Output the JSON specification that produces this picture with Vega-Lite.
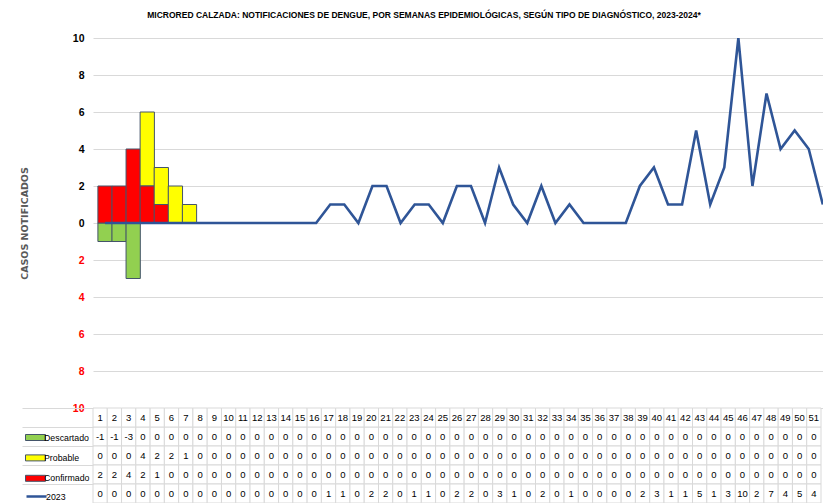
{
  "$schema": "https://vega.github.io/schema/vega-lite/v6.json",
  "autosize": {"type": "pad"},
  "padding": {"left": 19, "top": 10, "right": 0, "bottom": 0},
  "bounds": "flush",
  "spacing": 0,
  "background": "white",
  "title": {
    "text": "MICRORED  CALZADA:  NOTIFICACIONES  DE  DENGUE,  POR SEMANAS  EPIDEMIOLÓGICAS,   SEGÚN  TIPO  DE  DIAGNÓSTICO,  2023-2024*",
    "font": "Liberation Sans",
    "fontSize": 8.5,
    "fontWeight": "bold",
    "color": "#000000",
    "anchor": "middle",
    "dx": 2,
    "offset": 14
  },
  "datasets": {
    "d": [
      {"semana": 1, "Descartado": -1, "Probable": 0, "Confirmado": 2, "2023": 0},
      {"semana": 2, "Descartado": -1, "Probable": 0, "Confirmado": 2, "2023": 0},
      {"semana": 3, "Descartado": -3, "Probable": 0, "Confirmado": 4, "2023": 0},
      {"semana": 4, "Descartado": 0, "Probable": 4, "Confirmado": 2, "2023": 0},
      {"semana": 5, "Descartado": 0, "Probable": 2, "Confirmado": 1, "2023": 0},
      {"semana": 6, "Descartado": 0, "Probable": 2, "Confirmado": 0, "2023": 0},
      {"semana": 7, "Descartado": 0, "Probable": 1, "Confirmado": 0, "2023": 0},
      {"semana": 8, "Descartado": 0, "Probable": 0, "Confirmado": 0, "2023": 0},
      {"semana": 9, "Descartado": 0, "Probable": 0, "Confirmado": 0, "2023": 0},
      {"semana": 10, "Descartado": 0, "Probable": 0, "Confirmado": 0, "2023": 0},
      {"semana": 11, "Descartado": 0, "Probable": 0, "Confirmado": 0, "2023": 0},
      {"semana": 12, "Descartado": 0, "Probable": 0, "Confirmado": 0, "2023": 0},
      {"semana": 13, "Descartado": 0, "Probable": 0, "Confirmado": 0, "2023": 0},
      {"semana": 14, "Descartado": 0, "Probable": 0, "Confirmado": 0, "2023": 0},
      {"semana": 15, "Descartado": 0, "Probable": 0, "Confirmado": 0, "2023": 0},
      {"semana": 16, "Descartado": 0, "Probable": 0, "Confirmado": 0, "2023": 0},
      {"semana": 17, "Descartado": 0, "Probable": 0, "Confirmado": 0, "2023": 1},
      {"semana": 18, "Descartado": 0, "Probable": 0, "Confirmado": 0, "2023": 1},
      {"semana": 19, "Descartado": 0, "Probable": 0, "Confirmado": 0, "2023": 0},
      {"semana": 20, "Descartado": 0, "Probable": 0, "Confirmado": 0, "2023": 2},
      {"semana": 21, "Descartado": 0, "Probable": 0, "Confirmado": 0, "2023": 2},
      {"semana": 22, "Descartado": 0, "Probable": 0, "Confirmado": 0, "2023": 0},
      {"semana": 23, "Descartado": 0, "Probable": 0, "Confirmado": 0, "2023": 1},
      {"semana": 24, "Descartado": 0, "Probable": 0, "Confirmado": 0, "2023": 1},
      {"semana": 25, "Descartado": 0, "Probable": 0, "Confirmado": 0, "2023": 0},
      {"semana": 26, "Descartado": 0, "Probable": 0, "Confirmado": 0, "2023": 2},
      {"semana": 27, "Descartado": 0, "Probable": 0, "Confirmado": 0, "2023": 2},
      {"semana": 28, "Descartado": 0, "Probable": 0, "Confirmado": 0, "2023": 0},
      {"semana": 29, "Descartado": 0, "Probable": 0, "Confirmado": 0, "2023": 3},
      {"semana": 30, "Descartado": 0, "Probable": 0, "Confirmado": 0, "2023": 1},
      {"semana": 31, "Descartado": 0, "Probable": 0, "Confirmado": 0, "2023": 0},
      {"semana": 32, "Descartado": 0, "Probable": 0, "Confirmado": 0, "2023": 2},
      {"semana": 33, "Descartado": 0, "Probable": 0, "Confirmado": 0, "2023": 0},
      {"semana": 34, "Descartado": 0, "Probable": 0, "Confirmado": 0, "2023": 1},
      {"semana": 35, "Descartado": 0, "Probable": 0, "Confirmado": 0, "2023": 0},
      {"semana": 36, "Descartado": 0, "Probable": 0, "Confirmado": 0, "2023": 0},
      {"semana": 37, "Descartado": 0, "Probable": 0, "Confirmado": 0, "2023": 0},
      {"semana": 38, "Descartado": 0, "Probable": 0, "Confirmado": 0, "2023": 0},
      {"semana": 39, "Descartado": 0, "Probable": 0, "Confirmado": 0, "2023": 2},
      {"semana": 40, "Descartado": 0, "Probable": 0, "Confirmado": 0, "2023": 3},
      {"semana": 41, "Descartado": 0, "Probable": 0, "Confirmado": 0, "2023": 1},
      {"semana": 42, "Descartado": 0, "Probable": 0, "Confirmado": 0, "2023": 1},
      {"semana": 43, "Descartado": 0, "Probable": 0, "Confirmado": 0, "2023": 5},
      {"semana": 44, "Descartado": 0, "Probable": 0, "Confirmado": 0, "2023": 1},
      {"semana": 45, "Descartado": 0, "Probable": 0, "Confirmado": 0, "2023": 3},
      {"semana": 46, "Descartado": 0, "Probable": 0, "Confirmado": 0, "2023": 10},
      {"semana": 47, "Descartado": 0, "Probable": 0, "Confirmado": 0, "2023": 2},
      {"semana": 48, "Descartado": 0, "Probable": 0, "Confirmado": 0, "2023": 7},
      {"semana": 49, "Descartado": 0, "Probable": 0, "Confirmado": 0, "2023": 4},
      {"semana": 50, "Descartado": 0, "Probable": 0, "Confirmado": 0, "2023": 5},
      {"semana": 51, "Descartado": 0, "Probable": 0, "Confirmado": 0, "2023": 4},
      {"semana": 52, "2023": 1}
    ]
  },
  "vconcat": [
    {
      "width": 732,
      "height": 370,
      "data": {"name": "d"},
      "layer": [
        {
          "transform": [
            {"fold": ["Descartado", "Probable", "Confirmado"], "as": ["serie", "valor"]},
            {"filter": "isValid(datum.valor) && datum.valor != 0"}
          ],
          "mark": {"type": "bar", "width": 14.27, "stroke": "#44546A", "strokeWidth": 1},
          "encoding": {
            "x": {"field": "semana", "type": "quantitative", "scale": {"domain": [0.5, 51.8], "nice": false, "zero": false}, "axis": null},
            "y": {
              "field": "valor", "type": "quantitative", "stack": "zero",
              "scale": {"domain": [-10, 10], "nice": false},
              "axis": {
                "values": [-10, -8, -6, -4, -2, 0, 2, 4, 6, 8, 10],
                "tickCount": 11,
                "labelExpr": "abs(datum.value)",
                "labelColor": {"condition": {"test": "datum.value < 0", "value": "#FF0000"}, "value": "#000000"},
                "labelFont": "Liberation Sans",
                "labelFontWeight": "bold",
                "labelFontSize": 10.5,
                "labelPadding": 9,
                "labelOverlap": false,
                "labelBound": false,
                "ticks": false,
                "domain": false,
                "grid": true,
                "gridColor": "#D9D9D9",
                "gridWidth": 1,
                "title": "CASOS NOTIFICADOS",
                "titleFontSize": 9.5,
                "titleFont": "DejaVu Sans",
                "titleFontWeight": "bold",
                "titleColor": "#595959",
                "titleX": -69,
                "titleY": 185,
                "titleAngle": 270,
                "titleAlign": "center",
                "titleBaseline": "middle"
              }
            },
            "fill": {
              "field": "serie", "type": "nominal",
              "scale": {"domain": ["Descartado", "Probable", "Confirmado"], "range": ["#92D050", "#FFFF00", "#FF0000"]},
              "legend": {
                "orient": "none",
                "legendX": -63,
                "legendY": 394,
                "title": null,
                "direction": "vertical",
                "symbolType": "M-2,-0.6H2V0.6H-2Z",
                "symbolSize": 100,
                "symbolStrokeColor": "#44546A",
                "symbolStrokeWidth": 1,
                "symbolOpacity": 1,
                "labelFont": "Liberation Sans",
                "labelFontSize": 8.8,
                "labelColor": "#000000",
                "labelBaseline": "middle",
                "labelOffset": 3,
                "rowPadding": 9.4,
                "padding": 0
              }
            },
            "order": {"field": "serie", "sort": "ascending"}
          }
        },
        {
          "mark": {"type": "line", "strokeWidth": 2.6, "clip": true},
          "encoding": {
            "x": {"field": "semana", "type": "quantitative"},
            "y": {
              "field": "2023", "type": "quantitative",
              "axis": {
                "values": [-10, -8, -6, -4, -2, 0, 2, 4, 6, 8, 10],
                "tickCount": 11,
                "labelOverlap": false
              }
            },
            "stroke": {
              "datum": "2023", "type": "nominal",
              "scale": {"domain": ["2023"], "range": ["#2F5597"]},
              "legend": {
                "orient": "none",
                "legendX": -63,
                "legendY": 452,
                "title": null,
                "symbolType": "M-2,0H2",
                "symbolSize": 100,
                "symbolStrokeWidth": 2.5,
                "labelFont": "Liberation Sans",
                "labelFontSize": 8.8,
                "labelColor": "#000000",
                "labelBaseline": "middle",
                "labelOffset": 3,
                "padding": 0
              }
            }
          }
        }
      ]
    },
    {
      "width": 728,
      "height": 95,
      "data": {"name": "d"},
      "transform": [{"filter": "datum.semana <= 51"}],
      "encoding": {
        "x": {"field": "semana", "type": "ordinal", "scale": {"paddingInner": 0, "paddingOuter": 0}, "axis": null}
      },
      "layer": [
        {
          "transform": [{"fold": ["Descartado", "Probable", "Confirmado", "2023"], "as": ["serie", "valor"]}],
          "mark": {"type": "rect", "fill": "white", "stroke": "#D9D9D9", "strokeWidth": 1},
          "encoding": {
            "y": {
              "field": "serie", "type": "nominal",
              "scale": {"domain": ["hdr", "Descartado", "Probable", "Confirmado", "2023"], "paddingInner": 0, "paddingOuter": 0},
              "axis": {
                "labels": false,
                "title": null,
                "domain": false,
                "tickBand": "extent",
                "tickSize": 71,
                "tickColor": "#D9D9D9",
                "tickWidth": 1,
                "encode": {"ticks": {"update": {"opacity": {"signal": "datum.extra ? 0 : 1"}}}}
              }
            }
          }
        },
        {
          "mark": {"type": "rect", "fill": "white", "stroke": "#D9D9D9", "strokeWidth": 1},
          "encoding": {"y": {"datum": "hdr", "type": "nominal"}}
        },
        {
          "transform": [{"fold": ["Descartado", "Probable", "Confirmado", "2023"], "as": ["serie", "valor"]}],
          "mark": {"type": "text", "fontSize": 9.5, "color": "#000000"},
          "encoding": {
            "y": {"field": "serie", "type": "nominal"},
            "text": {"field": "valor", "type": "nominal"}
          }
        },
        {
          "mark": {"type": "text", "fontSize": 9.5, "color": "#000000"},
          "encoding": {
            "y": {"datum": "hdr", "type": "nominal"},
            "text": {"field": "semana", "type": "ordinal"}
          }
        }
      ]
    }
  ],
  "config": {
    "font": "Liberation Sans",
    "view": {"stroke": null}
  }
}
